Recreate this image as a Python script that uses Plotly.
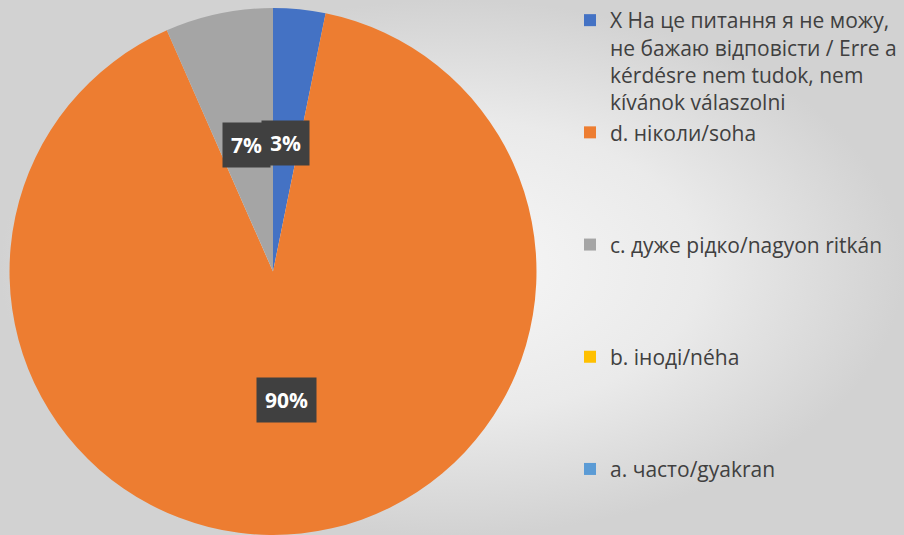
import math
import plotly.graph_objects as go

# Data
labels = [
    "X На це питання я не можу,<br>не бажаю відповісти / Erre a<br>kérdésre nem tudok, nem<br>kívánok válaszolni",
    "d. ніколи/soha",
    "c. дуже рідко/nagyon ritkán",
    "b. іноді/néha",
    "a. часто/gyakran",
]
values = [3.2, 90.2, 6.6, 0, 0]
colors = ["#4472C4", "#ED7D31", "#A5A5A5", "#FFC000", "#5B9BD5"]

W, H = 904, 535
pie_x = [0.01, 0.594]
pie_y = [0.0, 0.985]

# pad legend entries with blank lines so they spread down the right side
pad_lines = [0, 3, 3, 3, 0]
legend_text = [l + "<br> " * n for l, n in zip(labels, pad_lines)]

fig = go.Figure()

# background gradient
fig.add_trace(go.Scatter(
    x=[0, 1, 1, 0, 0], y=[0, 0, 1, 1, 0],
    mode="lines", line=dict(width=0),
    fill="toself",
    fillgradient=dict(type="radial", colorscale=[[0, "#f7f7f7"], [0.55, "#eaeaea"], [1, "#d2d2d2"]]),
    hoverinfo="skip", showlegend=False,
))

fig.add_trace(go.Pie(
    labels=legend_text,
    values=values,
    marker=dict(colors=colors, line=dict(width=0)),
    sort=False,
    direction="clockwise",
    rotation=0,
    textinfo="none",
    domain=dict(x=pie_x, y=pie_y),
    showlegend=True,
))

cx = (pie_x[0] + pie_x[1]) / 2 * W
cy = (1 - (pie_y[0] + pie_y[1]) / 2) * H
r = min((pie_x[1] - pie_x[0]) * W, (pie_y[1] - pie_y[0]) * H) / 2

# soft shadow around the pie
for g, a in [(12, 0.03), (8, 0.035), (4, 0.045)]:
    fig.add_shape(type="circle", xref="paper", yref="paper",
                  x0=(cx - r - g) / W, x1=(cx + r + g) / W,
                  y0=1 - (cy + r + g) / H, y1=1 - (cy - r - g) / H,
                  fillcolor=f"rgba(0,0,0,{a})", line=dict(width=0), layer="below")

# data labels in dark boxes, placed at half radius on each slice's mid-angle
total = sum(values)
start = 0.0
for v in values:
    if v > 0:
        mid = (start + v / 2) / total * 2 * math.pi
        px = cx + 0.49 * r * math.sin(mid)
        py = cy - 0.49 * r * math.cos(mid)
        fig.add_annotation(
            x=px / W, y=1 - py / H, xref="paper", yref="paper",
            xanchor="center", yanchor="middle",
            text=f"<b>{round(v / total * 100)}%</b>", showarrow=False,
            font=dict(family="Open Sans", size=21, color="white"),
            bgcolor="#404040", borderpad=8,
        )
    start += v

# light panel behind the legend
fig.add_shape(type="rect", xref="paper", yref="paper",
              x0=583 / W, x1=1, y0=0, y1=1 - 8 / H,
              fillcolor="rgba(255,255,255,0.7)", line=dict(width=0), layer="below")

fig.update_layout(
    width=W, height=H,
    margin=dict(l=0, r=0, t=0, b=0),
    paper_bgcolor="#e6e6e6",
    plot_bgcolor="rgba(0,0,0,0)",
    xaxis=dict(visible=False, range=[0, 1], domain=[0, 1], fixedrange=True),
    yaxis=dict(visible=False, range=[0, 1], domain=[0, 1], fixedrange=True),
    font=dict(family="Open Sans", color="#404040"),
    legend=dict(
        x=570 / W, y=1.0, xanchor="left", yanchor="top",
        valign="top", bgcolor="rgba(0,0,0,0)",
        font=dict(family="Open Sans", size=21, color="#404040"),
        traceorder="normal",
    ),
)

fig.write_html("out.html", config={"displayModeBar": False},
               post_script="document.body.style.margin='0';")
